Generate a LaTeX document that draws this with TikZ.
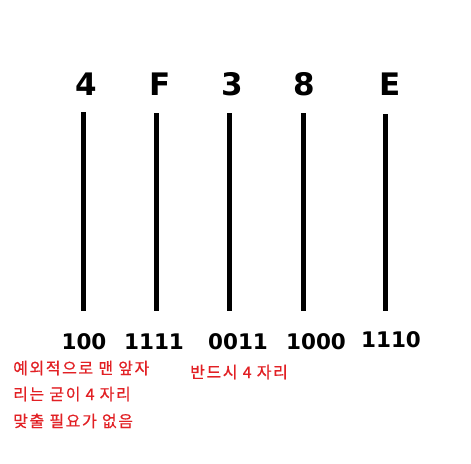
\documentclass[tikz,border=0pt]{standalone}
\usepackage{fontspec}
\setmainfont{DejaVu Sans}
\newfontfamily\kr[LetterSpace=10,FakeBold=0.6]{Noto Sans CJK KR}
\definecolor{notered}{RGB}{226,32,36}
\begin{document}
\begin{tikzpicture}[x=1pt,y=-1pt,
  hexd/.style={font=\fontsize{31}{31}\selectfont\bfseries, inner sep=0pt, anchor=base},
  bind/.style={font=\fontsize{21.5}{21.5}\selectfont\bfseries, inner sep=0pt, anchor=base},
  note/.style={font=\kr\fontsize{16}{16}\selectfont, text=notered, inner sep=0pt, anchor=base west},
  bar/.style={line width=5pt}]
\useasboundingbox[fill=white] (0,0) rectangle (471,463);
% hex digits
\node[hexd] (h1) at (86,95) {4};
\node[hexd] (h2) at (160,95) {F};
\node[hexd] (h3) at (232,95) {3};
\node[hexd] (h4) at (304,95) {8};
\node[hexd] (h5) at (390,95) {E};
% lines
\coordinate (t1) at (83.5,112); \coordinate (b1) at (83.5,311);
\coordinate (t2) at (156.5,113); \coordinate (b2) at (156.5,311);
\coordinate (t3) at (229.5,113); \coordinate (b3) at (229.5,311);
\coordinate (t4) at (303,113); \coordinate (b4) at (303,311);
\coordinate (t5) at (385,114); \coordinate (b5) at (385,311);
\foreach \i in {1,...,5} \draw[bar] (t\i) -- (b\i);
% binary
\node[bind] (n1) at (84,349) {100};
\node[bind] (n2) at (154,349) {1111};
\node[bind] (n3) at (238,349) {0011};
\node[bind] (n4) at (316,349) {1000};
\node[bind] (n5) at (391,347) {1110};
% notes
\node[note] (r1) at (13,374) {예외적으로 맨 앞자};
\node[note] (r2) at (13,400) {리는 굳이 4 자리};
\node[note] (r3) at (13,427) {맞출 필요가 없음};
\node[note] (r4) at (190,378) {반드시 4 자리};
\end{tikzpicture}
\end{document}
